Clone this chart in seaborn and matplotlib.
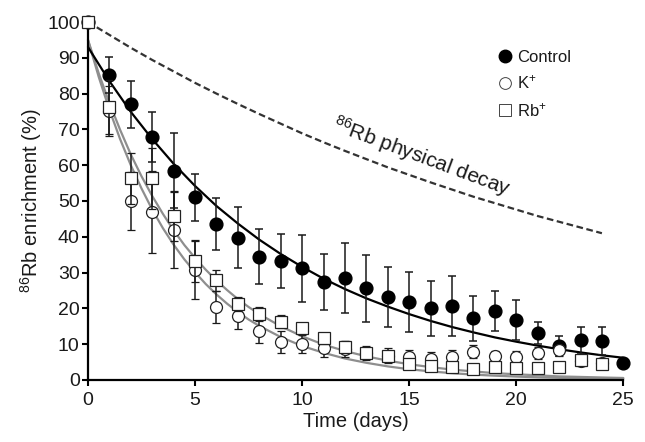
import matplotlib
matplotlib.use("Agg")
import matplotlib.pyplot as plt
import seaborn as sns
import pandas as pd
from matplotlib.lines import Line2D

# ---------------- data ----------------
days_ctrl = list(range(26))
days_ion = list(range(25))

control_mean = [100, 85.3, 77.0, 67.8, 58.5, 51.0, 43.5, 39.8, 34.4, 33.2, 31.2, 27.3, 28.4,
                25.6, 23.3, 21.8, 20.0, 20.7, 17.3, 19.2, 16.8, 13.2, 9.4, 11.1, 10.8, 4.8]
control_sd = [0, 5.0, 6.5, 7.0, 10.5, 6.6, 7.2, 8.6, 7.7, 7.5, 9.4, 7.8, 9.8,
              9.3, 8.4, 8.4, 7.7, 8.3, 6.3, 5.6, 5.6, 3.1, 2.8, 3.8, 3.9, 0]

k_mean = [100, 75.1, 50.0, 47.0, 41.9, 30.8, 20.3, 18.0, 13.7, 10.6, 10.0, 8.9, 8.7,
          7.5, 6.8, 6.4, 5.9, 6.3, 7.9, 6.6, 6.4, 7.5, 8.3, 5.4, 4.7]
k_sd = [0, 7.0, 8.0, 11.4, 10.7, 8.3, 4.5, 3.7, 3.3, 3.1, 2.6, 2.6, 2.2,
        2.0, 2.0, 2.0, 2.0, 2.0, 1.8, 1.6, 1.6, 1.6, 1.6, 1.5, 1.5]

rb_mean = [100, 76.2, 56.3, 56.3, 45.8, 33.1, 27.8, 21.3, 18.4, 16.3, 14.5, 11.6, 9.3,
           7.4, 6.8, 4.5, 3.8, 3.5, 3.2, 3.6, 3.3, 3.4, 3.7, 5.7, 4.6]
rb_sd = [0, 7.5, 7.0, 8.5, 7.0, 5.7, 3.0, 2.0, 2.0, 1.8, 1.5, 1.5, 1.5,
         1.2, 1.2, 1.0, 1.0, 1.0, 1.0, 1.0, 1.0, 1.0, 1.0, 1.2, 1.2]

# fitted curves
fit_days_ctrl = list(range(26))
control_fit = [93.0, 83.5, 74.9, 67.3, 60.4, 54.2, 48.6, 43.7, 39.2, 35.2, 31.6, 28.3, 25.4,
               22.8, 20.5, 18.4, 16.5, 14.8, 13.3, 11.9, 10.7, 9.6, 8.6, 7.7, 6.9, 6.2]
fit_days_ion = [0, 0.5, 1, 1.5, 2, 2.5, 3, 3.5, 4, 4.5, 5, 5.5, 6, 6.5, 7, 7.5, 8,
                9, 10, 11, 12, 13, 14, 15, 16, 17, 18, 19, 20, 21, 22, 23, 24, 25]
k_fit = [95.0, 84.7, 75.5, 67.3, 60.0, 53.5, 47.6, 42.4, 37.8, 33.7, 30.1, 26.8, 23.9, 21.3,
         19.0, 16.9, 15.1, 12.0, 9.5, 7.6, 6.0, 4.8, 3.8, 3.0, 2.4, 1.9, 1.5, 1.2, 0.95,
         0.75, 0.6, 0.5, 0.4, 0.3]
rb_fit = [95.0, 85.7, 77.4, 69.9, 63.0, 56.9, 51.4, 46.4, 41.8, 37.7, 34.1, 30.8, 27.8, 25.1,
          22.6, 20.4, 18.4, 15.0, 12.2, 9.9, 8.1, 6.6, 5.4, 4.4, 3.6, 2.9, 2.4, 1.9, 1.6,
          1.3, 1.0, 0.85, 0.7, 0.56]

decay_days = list(range(25))
decay_vals = [100, 96.4, 92.8, 89.4, 86.2, 83.0, 80.0, 77.1, 74.3, 71.6, 68.9, 66.4, 64.0,
              61.7, 59.4, 57.3, 55.2, 53.2, 51.2, 49.4, 47.6, 45.8, 44.2, 42.6, 41.0]

x_ticks = [0, 5, 10, 15, 20, 25]
y_ticks = [0, 10, 20, 30, 40, 50, 60, 70, 80, 90, 100]

# ---------------- style ----------------
sns.set_theme(style="ticks")
plt.rcParams["font.family"] = ["Liberation Sans", "DejaVu Sans"]
plt.rcParams["mathtext.fontset"] = "custom"
plt.rcParams["mathtext.rm"] = "Liberation Sans"
plt.rcParams["mathtext.it"] = "Liberation Sans:italic"
plt.rcParams["mathtext.bf"] = "Liberation Sans:bold"
plt.rcParams["mathtext.default"] = "regular"

fig = plt.figure(figsize=(6.45, 4.42), dpi=100)
ax = fig.add_axes([0.1364, 0.1403, 0.8300, 0.8099])

# fit curves and physical decay
fits = pd.DataFrame({"day": fit_days_ion, "K": k_fit, "Rb": rb_fit})
ctrl_fit_df = pd.DataFrame({"day": fit_days_ctrl, "fit": control_fit})
decay_df = pd.DataFrame({"day": decay_days, "val": decay_vals})

sns.lineplot(data=fits, x="day", y="K", ax=ax, color="#8e8e8e", lw=1.6, zorder=2)
sns.lineplot(data=fits, x="day", y="Rb", ax=ax, color="#8e8e8e", lw=1.6, zorder=2)
sns.lineplot(data=ctrl_fit_df, x="day", y="fit", ax=ax, color="black", lw=1.6, zorder=2)
sns.lineplot(data=decay_df, x="day", y="val", ax=ax, color="#333333", lw=1.6,
             dashes=False, zorder=2)
ax.lines[-1].set_dashes((3.0, 1.6))

ms = 8.6
eb_kw = dict(elinewidth=1.1, capsize=3.2, capthick=1.1, ecolor="#1a1a1a", clip_on=False)

# control
ax.errorbar(days_ctrl, control_mean, yerr=control_sd, fmt="o", ms=ms + 0.6,
            mfc="black", mec="black", zorder=3, **eb_kw)
# K+
ax.errorbar(days_ion, k_mean, yerr=k_sd, fmt="o", ms=ms, mfc="white",
            mec="#222222", mew=0.9, zorder=4, **eb_kw)
# Rb+
ax.errorbar(days_ion, rb_mean, yerr=rb_sd, fmt="s", ms=ms - 0.6, mfc="white",
            mec="#222222", mew=0.9, zorder=5, **eb_kw)
for ln in ax.lines:
    ln.set_clip_on(False)

# axes
ax.set_xlim(0, 25)
ax.set_ylim(0, 100)
ax.set_xticks(x_ticks)
ax.set_yticks(y_ticks)
sns.despine(ax=ax)
for s in ["left", "bottom"]:
    ax.spines[s].set_linewidth(1.6)
    ax.spines[s].set_color("black")
ax.tick_params(axis="both", direction="out", length=4.5, width=1.5, colors="black",
               labelsize=14, labelcolor="#1a1a1a")
ax.tick_params(axis="y", pad=1.5)
ax.tick_params(axis="x", pad=4)
ax.set_xlabel("Time (days)", fontsize=14.5, color="#1a1a1a", labelpad=2)
ax.set_ylabel("$^{86}$Rb enrichment (%)", fontsize=14.5, color="#1a1a1a", labelpad=2)
ax.set_facecolor("white")
ax.grid(False)

# annotation
ax.text(15.6, 62.3, "$^{86}$Rb physical decay", rotation=-20.5, ha="center", va="center",
        rotation_mode="anchor", fontsize=15, color="#1a1a1a")

# legend
handles = [
    Line2D([], [], marker="o", ls="none", mfc="black", mec="black", ms=9),
    Line2D([], [], marker="o", ls="none", mfc="white", mec="#444444", mew=0.7, ms=8.5),
    Line2D([], [], marker="s", ls="none", mfc="white", mec="#444444", mew=0.7, ms=8),
]
labels = ["Control", "K$^{+}$", "Rb$^{+}$"]
fig.legend(handles, labels, loc="upper left", bbox_to_anchor=(0.773, 0.888),
           bbox_transform=fig.transFigure, frameon=False, fontsize=12,
           handlelength=0.8, handletextpad=0.3, labelspacing=0.55,
           borderpad=0, borderaxespad=0, labelcolor="#1a1a1a")

fig.savefig("out.png", dpi=100, facecolor="white")
